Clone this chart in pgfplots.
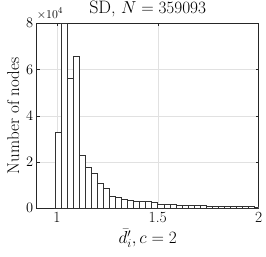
\documentclass[border=0pt]{standalone}
\usepackage{fontspec}
\usepackage{pgfplots}
\pgfplotsset{compat=1.18}
\definecolor{axgray}{RGB}{38,38,38}
\definecolor{gridgray}{RGB}{225,225,225}
\definecolor{baredge}{RGB}{50,50,50}
\begin{document}
\begin{tikzpicture}
\begin{axis}[
  scale only axis, width=222pt, height=185pt,
  xmin=0.9, xmax=2, ymin=0, ymax=80000,
  xtick={1,1.5,2}, ytick={0,20000,40000,60000,80000},
  xticklabels={1,1.5,2},
  scaled y ticks=base 10:-4,
  ytick scale label code/.code={$\times10^{4}$},
  every y tick scale label/.style={at={(rel axis cs:0,1)}, anchor=base west, inner sep=0pt, yshift=5pt, font=\fontsize{13}{13}\selectfont},
  tick label style={font=\fontsize{15.5}{16}\selectfont},
  label style={font=\fontsize{17}{17}\selectfont},
  title={SD, $N=359093$},
  title style={font=\fontsize{18}{19}\selectfont, yshift=-3pt},
  xlabel={$\bar{d}'_i, c=2$},
  ylabel={Number of nodes},
  grid=major, major grid style={gridgray, line width=0.5pt},
  axis line style={axgray, line width=0.6pt},
  tick style={axgray, line width=0.5pt},
  tick align=inside, major tick length=3pt,
  xtick pos=both, ytick pos=both,
  clip=true,
]
\addplot[ybar interval, fill=white, draw=baredge, line width=0.6pt] coordinates {
(0.99,32700) (1.02,80000) (1.05,56400) (1.08,65800) (1.11,23000)
(1.14,17600) (1.17,15100) (1.20,10900) (1.23,8800) (1.26,5100)
(1.29,4600) (1.32,4000) (1.35,3500) (1.38,3200) (1.41,3000)
(1.44,2900) (1.47,2700) (1.50,1800) (1.53,1650) (1.56,1550)
(1.59,1450) (1.62,1350) (1.65,1250) (1.68,1150) (1.71,1100)
(1.74,1000) (1.77,950) (1.80,900) (1.83,850) (1.86,800)
(1.89,750) (1.92,700) (1.95,650) (1.98,600) (2.01,600)
};
\coordinate (LL) at (rel axis cs:0,0);
\coordinate (UR) at (rel axis cs:1,1);
\end{axis}
\pgfresetboundingbox
\path ([shift={(-36.7pt,-48.7pt)}]LL) rectangle ([shift={(7.3pt,23.3pt)}]UR);
\end{tikzpicture}
\end{document}
